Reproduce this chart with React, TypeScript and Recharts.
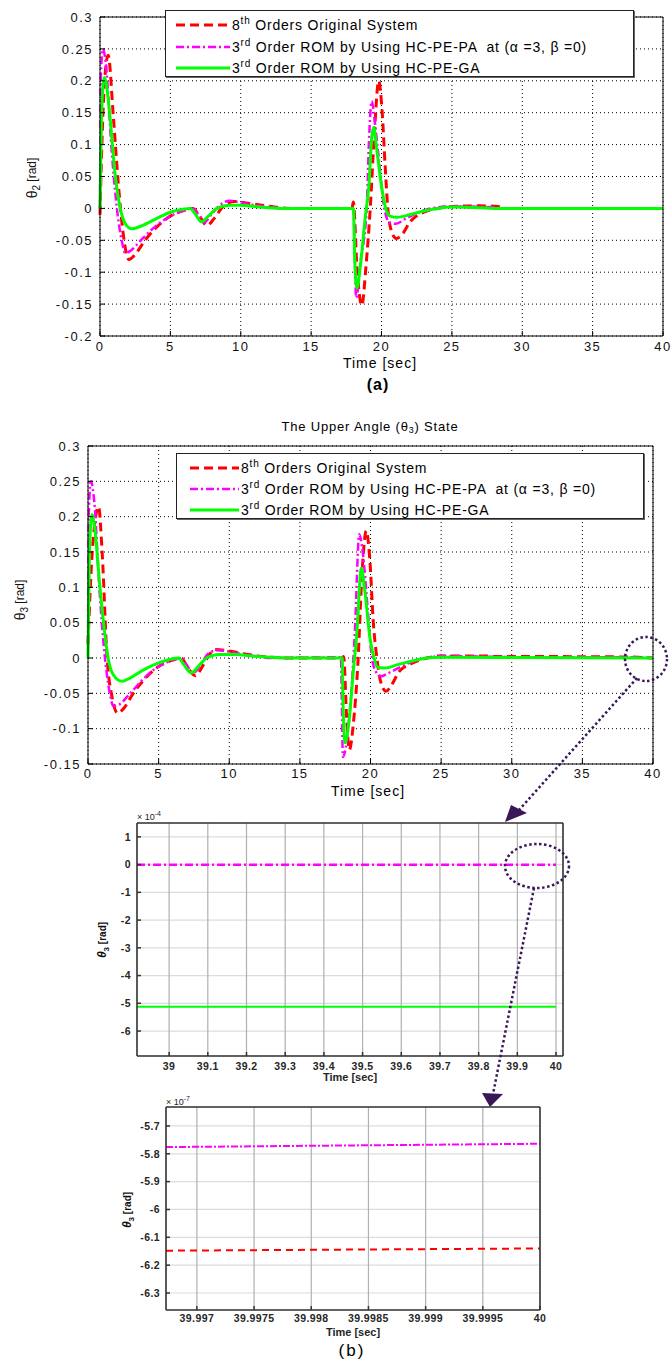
import React from 'react';
import { LineChart, Line, XAxis, YAxis, CartesianGrid } from 'recharts';

const FONT = '"Liberation Sans", Arial, Helvetica, sans-serif';
const RED = '#ff0000';
const MAGENTA = '#ff00ff';
const GREEN = '#00ff00';
const PURPLE = '#3a1858';

// ---- (a) theta2 response ----
const th2RedT = [0, 0.08, 0.3, 0.58, 0.95, 1.3, 1.65, 2.05, 2.5, 3.2, 4, 5, 6, 6.6, 7.1, 7.6, 8.1, 8.7, 9.5, 10.5, 11.5, 12.5, 13.5, 17.9, 18.0, 18.25, 18.6, 18.9, 19.2, 19.5, 19.8, 20.05, 20.25, 20.45, 20.7, 21.05, 21.5, 22, 23, 24, 25, 27, 28.3, 28.6, 40];
const th2RedV = [-0.01, 0.06, 0.19, 0.24, 0.143, 0.039, -0.04, -0.08, -0.072, -0.05, -0.03, -0.012, -0.003, 0, -0.013, -0.027, -0.016, 0.002, 0.011, 0.008, 0.005, 0.002, 0, 0, 0.01, -0.09, -0.152, -0.09, 0.0, 0.12, 0.2, 0.15, 0.07, 0.0, -0.035, -0.047, -0.04, -0.022, -0.006, 0, 0.003, 0.004, 0.003, 0, 0];
const th2MagT = [0, 0.05, 0.2, 0.4, 0.83, 1.19, 1.54, 1.8, 2.2, 2.9, 4, 5, 6, 6.5, 7.0, 7.4, 7.9, 8.5, 9.2, 10, 11, 12, 13, 18.0, 18.2, 18.5, 18.95, 19.1, 19.3, 19.55, 19.8, 20.2, 20.6, 21.0, 21.8, 23.5, 25, 28, 28.5, 40];
const th2MagV = [0, 0.2, 0.25, 0.23, 0.09, 0.002, -0.05, -0.07, -0.066, -0.05, -0.027, -0.012, -0.003, 0, -0.01, -0.022, -0.01, 0.005, 0.012, 0.009, 0.005, 0.002, 0, 0, -0.14, -0.085, 0.0, 0.1, 0.168, 0.13, 0.08, 0, -0.023, -0.024, -0.015, 0, 0.003, 0.002, 0, 0];
const th2GreenT = [0, 0.1, 0.3, 0.45, 0.71, 1.07, 1.42, 1.8, 2.25, 3, 4, 5, 6, 6.4, 6.8, 7.2, 7.7, 8.3, 9.2, 10, 11, 12, 13, 18.0, 18.1, 18.25, 18.5, 18.85, 19.1, 19.3, 19.45, 19.65, 20.0, 20.3, 20.6, 21.1, 22, 23, 24, 25, 27, 28, 40];
const th2GreenV = [0, 0.14, 0.205, 0.195, 0.143, 0.054, 0.002, -0.024, -0.032, -0.027, -0.016, -0.006, -0.001, 0, -0.01, -0.021, -0.012, 0, 0.005, 0.005, 0.003, 0.001, 0, 0, -0.08, -0.125, -0.09, -0.013, 0.035, 0.11, 0.127, 0.095, 0.035, 0, -0.012, -0.014, -0.01, -0.004, 0, 0.002, 0.001, 0, 0];

// ---- theta3 response ----
const th3RedT = [0, 0.3, 0.75, 1.0, 1.35, 1.7, 2.1, 2.5, 3.2, 4, 5, 6, 6.6, 7.1, 7.6, 8.1, 8.6, 9.0, 10, 11, 12, 13, 14, 18.0, 18.1, 18.3, 18.5, 18.8, 19.1, 19.4, 19.7, 19.95, 20.2, 20.45, 20.7, 21.1, 21.5, 22, 23, 24, 25, 28, 29, 32, 38, 40];
const th3RedV = [0.02, 0.15, 0.214, 0.15, 0, -0.055, -0.078, -0.072, -0.05, -0.03, -0.012, -0.003, 0, -0.015, -0.025, -0.012, 0.005, 0.012, 0.01, 0.006, 0.003, 0.001, 0, 0, 0.002, -0.08, -0.13, -0.09, -0.01, 0.12, 0.18, 0.14, 0.05, 0, -0.032, -0.047, -0.038, -0.02, -0.007, 0, 0.003, 0.003, 0.002, 0.002, 0.0015, 0];
const th3MagT = [0, 0.05, 0.2, 0.45, 0.8, 1.2, 1.5, 1.8, 2.2, 2.9, 4, 5, 6, 6.5, 7.0, 7.4, 7.9, 8.5, 9.2, 10, 11, 12, 13, 17.9, 18.05, 18.3, 18.6, 18.9, 19.2, 19.45, 19.8, 20.1, 20.4, 20.75, 21.2, 22, 23, 24, 25, 28, 32, 38, 40];
const th3MagV = [0.02, 0.2, 0.25, 0.22, 0.1, 0, -0.045, -0.068, -0.066, -0.052, -0.028, -0.012, -0.003, 0, -0.01, -0.022, -0.012, 0.006, 0.011, 0.009, 0.005, 0.002, 0, 0.001, -0.14, -0.12, -0.06, 0.04, 0.175, 0.15, 0.07, 0, -0.02, -0.026, -0.022, -0.014, -0.005, 0, 0.003, 0.002, 0.001, 0.001, 0];
const th3GreenT = [0, 0.1, 0.28, 0.5, 0.8, 1.1, 1.42, 1.8, 2.4, 3, 4, 5, 6, 6.4, 6.8, 7.3, 7.8, 8.4, 9.3, 10.5, 11.5, 13, 14, 18.0, 18.05, 18.2, 18.5, 18.8, 19.05, 19.25, 19.35, 19.6, 19.95, 20.25, 20.5, 21, 22, 23, 24, 25, 40];
const th3GreenV = [0, 0.15, 0.203, 0.18, 0.11, 0.05, 0, -0.024, -0.033, -0.028, -0.016, -0.007, -0.001, 0, -0.01, -0.021, -0.012, 0, 0.005, 0.005, 0.003, 0.001, 0, 0, -0.06, -0.12, -0.085, -0.015, 0.04, 0.11, 0.127, 0.095, 0.03, 0, -0.013, -0.014, -0.009, -0.004, 0, 0.001, 0];

// ---- zoom 1 (x1e-4) and zoom 2 (x1e-7) ----
const zoomT = [38.917, 40];
const zoomMagV = [-0.0058, -0.0058];
const zoomGreenV = [-5.12, -5.12];
const fineT = [39.99673, 40];
const fineRedV = [-6.148, -6.14];
const fineMagV = [-5.776, -5.764];

// ticks
const secTicks = [0, 5, 10, 15, 20, 25, 30, 35, 40];
const th2Ticks = [0.3, 0.25, 0.2, 0.15, 0.1, 0.05, 0, -0.05, -0.1, -0.15, -0.2];
const th3Ticks = [0.3, 0.25, 0.2, 0.15, 0.1, 0.05, 0, -0.05, -0.1, -0.15];
const zoomXTicks = [39, 39.1, 39.2, 39.3, 39.4, 39.5, 39.6, 39.7, 39.8, 39.9, 40];
const zoomYTicks = [1, 0, -1, -2, -3, -4, -5, -6];
const fineXTicks = [39.997, 39.9975, 39.998, 39.9985, 39.999, 39.9995, 40];
const fineYTicks = [-5.7, -5.8, -5.9, -6, -6.1, -6.2, -6.3];

// legend text
const legendNum = ['8', '3', '3'];
const legendSup = ['th', 'rd', 'rd'];
const legendText = [' Orders Original System', ' Order ROM by Using HC-PE-PA  at (\u03b1 =3, \u03b2 =0)', ' Order ROM by Using HC-PE-GA'];

type Pt = { t: number; v: number };
const zip = (ts: number[], vs: number[]): Pt[] => ts.map((t, i) => ({ t, v: vs[i] }));
const fmt = (d: number) => (v: number) => String(Number(v.toFixed(d)));

type Series = { data: Pt[]; color: string; dash?: string; width: number };
const redS = { color: RED, dash: '9 5', width: 3 };
const magS = { color: MAGENTA, dash: '8 3 2 3', width: 2.5 };
const greenS = { color: GREEN, width: 3 };
const legendStyles = [redS, magS, greenS];

const W = 672;

function Legend2(p: { left: number; top: number; width: number; height: number; rows: number[]; sampleLeft: number; sampleW: number }) {
  return (
    <div style={{ position: 'absolute', left: p.left, top: p.top, width: p.width, height: p.height, background: '#fff', border: '1px solid #222', boxShadow: '1px 1px 0 #666', boxSizing: 'border-box', fontFamily: FONT }}>
      {legendStyles.map((s, i) => (
        <div key={i} style={{ position: 'absolute', left: p.sampleLeft, top: p.rows[i] - 11, height: 22, display: 'flex', alignItems: 'center', whiteSpace: 'pre' }}>
          <svg width={p.sampleW} height={6} style={{ display: 'block' }}>
            <line x1={0} x2={p.sampleW} y1={3} y2={3} stroke={s.color} strokeWidth={s.width} strokeDasharray={(s as any).dash} />
          </svg>
          <span style={{ fontSize: 14, letterSpacing: 0.8, marginLeft: 2, color: '#000' }}>
            {legendNum[i]}
            <span style={{ fontSize: 10, position: 'relative', top: -6 }}>{legendSup[i]}</span>
            {legendText[i]}
          </span>
        </div>
      ))}
    </div>
  );
}

function OldPanel(p: {
  top: number; height: number; plotLeft: number; plotTop: number; plotRight: number; plotBottom: number;
  yDomain: [number, number]; yTicks: number[]; series: Series[]; xTickMargin: number; legend: React.ReactNode;
}) {
  const XH = 30;
  const margin = { top: p.plotTop - 1, right: W - p.plotRight - 1, bottom: p.height - p.plotBottom - XH, left: 0 };
  const tickStyle = { fontSize: 13, fill: '#111', fontFamily: FONT, letterSpacing: 1.5 };
  const ax = { stroke: '#000', strokeWidth: 1 };
  return (
    <div style={{ position: 'absolute', left: 0, top: p.top, width: W, height: p.height }}>
      <LineChart width={W} height={p.height} margin={margin}>
        <CartesianGrid stroke="#000" strokeDasharray="1 3" />
        <XAxis dataKey="t" type="number" domain={[0, 40]} ticks={secTicks} tickFormatter={fmt(0)} height={XH}
          tickSize={-5} tickMargin={p.xTickMargin} axisLine={ax} tickLine={ax} tick={tickStyle} />
        <XAxis xAxisId="top" orientation="top" type="number" domain={[0, 40]} ticks={secTicks} height={1}
          tick={false} tickSize={-5} axisLine={ax} tickLine={ax} />
        <YAxis type="number" domain={p.yDomain} ticks={p.yTicks} tickFormatter={fmt(2)} width={p.plotLeft}
          tickSize={-5} tickMargin={12} axisLine={ax} tickLine={ax} tick={tickStyle} />
        <YAxis yAxisId="right" orientation="right" type="number" domain={p.yDomain} ticks={p.yTicks} width={1}
          tick={false} tickSize={-5} axisLine={ax} tickLine={ax} />
        {p.series.map((s, i) => (
          <Line key={i} data={s.data} dataKey="v" type="monotone" stroke={s.color} strokeWidth={s.width}
            strokeDasharray={s.dash} dot={false} activeDot={false} isAnimationActive={false} />
        ))}
      </LineChart>
      {p.legend}
    </div>
  );
}

function NewPanel(p: {
  top: number; height: number; plotLeft: number; plotTop: number; plotRight: number; plotBottom: number;
  xDomain: [number, number]; xTicks: number[]; xDigits: number;
  yDomain: [number, number]; yTicks: number[]; series: Series[]; xTickMargin: number;
}) {
  const XH = 24;
  const margin = { top: p.plotTop - 1, right: W - p.plotRight - 1, bottom: p.height - p.plotBottom - XH, left: 0 };
  const tickStyle = { fontSize: 10.5, fill: '#262626', fontFamily: FONT, fontWeight: 'bold', letterSpacing: 0.4 };
  const ax = { stroke: '#333', strokeWidth: 1.5 };
  return (
    <div style={{ position: 'absolute', left: 0, top: p.top, width: W, height: p.height }}>
      <LineChart width={W} height={p.height} margin={margin}>
        <CartesianGrid vertical={false} stroke="#dcdcdc" strokeWidth={1.2} />
        <CartesianGrid horizontal={false} stroke="#b0b0b0" strokeWidth={1.2} />
        <XAxis dataKey="t" type="number" domain={p.xDomain} ticks={p.xTicks} tickFormatter={fmt(p.xDigits)} height={XH}
          tickSize={-4} tickMargin={p.xTickMargin} axisLine={ax} tickLine={ax} tick={tickStyle} />
        <XAxis xAxisId="top" orientation="top" type="number" domain={p.xDomain} ticks={p.xTicks} height={1}
          tick={false} tickSize={-4} axisLine={ax} tickLine={ax} />
        <YAxis type="number" domain={p.yDomain} ticks={p.yTicks} tickFormatter={fmt(1)} width={p.plotLeft}
          tickSize={-4} tickMargin={10} axisLine={ax} tickLine={ax} tick={tickStyle} />
        <YAxis yAxisId="right" orientation="right" type="number" domain={p.yDomain} ticks={p.yTicks} width={1}
          tick={false} tickSize={-4} axisLine={ax} tickLine={ax} />
        {p.series.map((s, i) => (
          <Line key={i} data={s.data} dataKey="v" type="linear" stroke={s.color} strokeWidth={s.width}
            strokeDasharray={s.dash} dot={false} activeDot={false} isAnimationActive={false} />
        ))}
      </LineChart>
    </div>
  );
}

function ThetaLabel(p: { x: number; cy: number; sub: string; bold?: boolean; size: number }) {
  return (
    <text transform={`translate(${p.x},${p.cy}) rotate(-90)`} textAnchor="middle" dominantBaseline="central"
      fontFamily={FONT} fontWeight={p.bold ? 'bold' : 'normal'} fill="#111">
      <tspan fontSize={p.size + 2} fontStyle={p.bold ? 'italic' : 'normal'}>{'\u03b8'}</tspan>
      <tspan fontSize={p.size - 2} dy={4}>{p.sub}</tspan>
      <tspan fontSize={p.size} dy={-4}>{' [rad]'}</tspan>
    </text>
  );
}

export default function App() {
  const s1: Series[] = [
    { data: zip(th2RedT, th2RedV), ...redS },
    { data: zip(th2MagT, th2MagV), ...magS },
    { data: zip(th2GreenT, th2GreenV), ...greenS },
  ];
  const s2: Series[] = [
    { data: zip(th3RedT, th3RedV), ...redS },
    { data: zip(th3MagT, th3MagV), ...magS },
    { data: zip(th3GreenT, th3GreenV), ...greenS },
  ];
  const s3: Series[] = [
    { data: zip(zoomT, zoomMagV), color: MAGENTA, dash: '8 3 2 3', width: 2.5 },
    { data: zip(zoomT, zoomGreenV), color: GREEN, width: 2 },
  ];
  const s4: Series[] = [
    { data: zip(fineT, fineRedV), color: RED, dash: '7 5', width: 2 },
    { data: zip(fineT, fineMagV), color: MAGENTA, dash: '7 2 2 2', width: 2 },
  ];
  const dotted = { fill: 'none', stroke: PURPLE, strokeWidth: 2.5, strokeDasharray: '2.5 2.5' };
  return (
    <div style={{ position: 'absolute', left: 0, top: 0, width: W, height: 1362, background: '#fff', overflow: 'hidden' }}>
      <OldPanel top={0} height={400} plotLeft={100} plotTop={17} plotRight={663} plotBottom={336}
        yDomain={[-0.2, 0.3]} yTicks={th2Ticks} series={s1} xTickMargin={11}
        legend={<Legend2 left={165} top={10} width={469} height={67} rows={[14, 36, 57]} sampleLeft={10} sampleW={54} />} />
      <OldPanel top={400} height={400} plotLeft={88} plotTop={46} plotRight={653} plotBottom={364}
        yDomain={[-0.15, 0.3]} yTicks={th3Ticks} series={s2} xTickMargin={10}
        legend={<Legend2 left={176} top={53} width={468} height={66} rows={[14, 35, 56]} sampleLeft={13} sampleW={49} />} />
      <NewPanel top={800} height={300} plotLeft={137} plotTop={23} plotRight={563} plotBottom={256}
        xDomain={[38.917, 40.018]} xTicks={zoomXTicks} xDigits={1} yDomain={[-6.9, 1.5]} yTicks={zoomYTicks}
        series={s3} xTickMargin={11} />
      <NewPanel top={1090} height={272} plotLeft={166} plotTop={17} plotRight={540} plotBottom={220}
        xDomain={[39.99673, 40]} xTicks={fineXTicks} xDigits={4} yDomain={[-6.361, -5.632]} yTicks={fineYTicks}
        series={s4} xTickMargin={9} />

      <svg width={W} height={1362} style={{ position: 'absolute', left: 0, top: 0, pointerEvents: 'none' }}>
        {/* axis labels and captions */}
        <ThetaLabel x={32} cy={178} sub="2" size={12} />
        <text x={380} y={363} textAnchor="middle" dominantBaseline="central" fontFamily={FONT} fontSize={14} letterSpacing={1}>Time [sec]</text>
        <text x={378} y={384} textAnchor="middle" dominantBaseline="central" fontFamily={FONT} fontSize={16} fontWeight="bold" letterSpacing={1}>(a)</text>

        <text x={370} y={426} textAnchor="middle" dominantBaseline="central" fontFamily={FONT} fontSize={13} letterSpacing={0.8}>
          The Upper Angle ({'\u03b8'}<tspan fontSize={9} dy={4}>3</tspan><tspan dy={-4}>) State</tspan>
        </text>
        <ThetaLabel x={20} cy={600} sub="3" size={12} />
        <text x={368} y={791} textAnchor="middle" dominantBaseline="central" fontFamily={FONT} fontSize={14} letterSpacing={1}>Time [sec]</text>

        <text x={137} y={820} fontFamily={FONT} fontSize={9} fill="#262626">{'\u00d7'} 10<tspan fontSize={7} dy={-4}>-4</tspan></text>
        <ThetaLabel x={102} cy={940} sub="3" size={10} bold />
        <text x={350} y={1077} textAnchor="middle" dominantBaseline="central" fontFamily={FONT} fontSize={11} fontWeight="bold" fill="#262626">Time [sec]</text>

        <text x={166} y={1105} fontFamily={FONT} fontSize={9} fill="#262626">{'\u00d7'} 10<tspan fontSize={7} dy={-4}>-7</tspan></text>
        <ThetaLabel x={127} cy={1210} sub="3" size={10} bold />
        <text x={353} y={1332} textAnchor="middle" dominantBaseline="central" fontFamily={FONT} fontSize={11} fontWeight="bold" fill="#262626">Time [sec]</text>
        <text x={352} y={1350} textAnchor="middle" dominantBaseline="central" fontFamily={FONT} fontSize={17} letterSpacing={2}>(b)</text>

        {/* zoom annotations */}
        <ellipse cx={646} cy={659} rx={21} ry={22} {...dotted} />
        <line x1={637} y1={678} x2={519} y2={810} {...dotted} />
        <polygon points="505,822 511,805 527,813" fill={PURPLE} />
        <ellipse cx={537} cy={866} rx={32} ry={22} {...dotted} />
        <line x1={534} y1={888} x2={493} y2={1094} {...dotted} />
        <polygon points="482,1093 503,1094 490,1107" fill={PURPLE} />
      </svg>
    </div>
  );
}
